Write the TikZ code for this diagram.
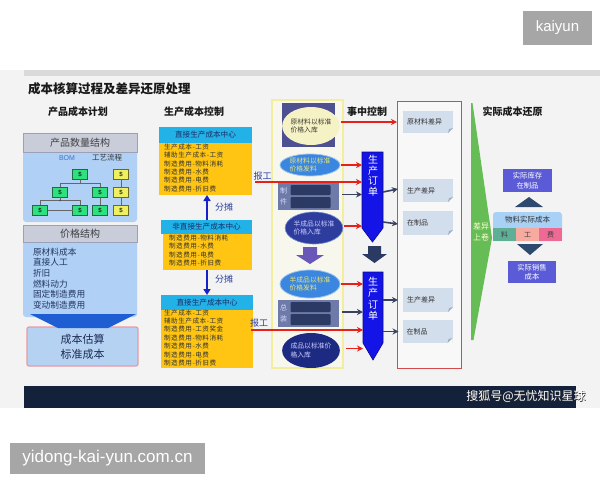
\documentclass[tikz,border=0pt]{standalone}
\usepackage{fontspec}
\setmainfont{Noto Sans CJK SC}
\newfontfamily\cjksp{Noto Sans CJK SC}[LetterSpace=8]
\newfontfamily\lat{Liberation Sans}
\usetikzlibrary{arrows.meta,shapes.geometric,calc}
\definecolor{cSlide}{HTML}{F3F3F3}
\definecolor{cBand}{HTML}{DADADA}
\definecolor{cDarkBar}{HTML}{14213A}
\definecolor{cWm}{HTML}{A6A6A6}
\definecolor{cPblue}{HTML}{B0D1F5}
\definecolor{cHgray}{HTML}{C9CDDA}
\definecolor{cHgrayD}{HTML}{9AA0B8}
\definecolor{cChev}{HTML}{1E5ED2}
\definecolor{cGbox}{HTML}{2EE07E}
\definecolor{cGboxD}{HTML}{1F6A40}
\definecolor{cYbox}{HTML}{EEF060}
\definecolor{cYboxD}{HTML}{6A6A20}
\definecolor{cBom}{HTML}{3C74C8}
\definecolor{cItem}{HTML}{22345E}
\definecolor{cEst}{HTML}{B5D2F2}
\definecolor{cEstD}{HTML}{E79AA4}
\definecolor{cEstT}{HTML}{1B2B55}
\definecolor{cCyan}{HTML}{22B2E8}
\definecolor{cYel}{HTML}{FFC512}
\definecolor{cNavyT}{HTML}{1A2F66}
\definecolor{cFen}{HTML}{1522C8}
\definecolor{cFenT}{HTML}{2A40A0}
\definecolor{cYFrame}{HTML}{F2EE9E}
\definecolor{cFrameFill}{HTML}{F7F7EE}
\definecolor{cSlate}{HTML}{4D5192}
\definecolor{cCream}{HTML}{F5F3C6}
\definecolor{cEllB}{HTML}{3B86DE}
\definecolor{cEllBD}{HTML}{9EC4F0}
\definecolor{cEllTxt}{HTML}{E8E37A}
\definecolor{cEllDB}{HTML}{2E3C9E}
\definecolor{cEllNv}{HTML}{1C2A82}
\definecolor{cPanel}{HTML}{6E7BA8}
\definecolor{cBar}{HTML}{2A3A62}
\definecolor{cPurp}{HTML}{6A58B8}
\definecolor{cOrd}{HTML}{1414E6}
\definecolor{cOrdD}{HTML}{0A0A90}
\definecolor{cRed}{HTML}{E8201A}
\definecolor{cDarkA}{HTML}{3A4262}
\definecolor{cRedBox}{HTML}{D44A4A}
\definecolor{cLbox}{HTML}{D3DEEC}
\definecolor{cFold}{HTML}{9FB0C6}
\definecolor{cGrn}{HTML}{66BC55}
\definecolor{cViolet}{HTML}{5B5BD8}
\definecolor{cTri}{HTML}{2D4A6E}
\definecolor{cMat}{HTML}{A9D1F5}
\definecolor{cCl}{HTML}{5FAE96}
\definecolor{cCg}{HTML}{F6AAA0}
\definecolor{cCf}{HTML}{EC6A94}
\newcommand{\fs}[2]{\fontsize{#1}{#2}\selectfont}
\begin{document}
\begin{tikzpicture}[x=1pt,y=-1pt,
  every node/.style={inner sep=0pt,outer sep=0pt},
  hdrbox/.style={fill=cHgray,draw=cHgrayD,line width=0.6,text=black!75,font=\fs{10}{12},minimum width=114},
  treebox/.style={fill=cGbox,draw=cGboxD,line width=0.5,minimum width=15,minimum height=10,font=\lat\fs{6}{6}},
  ytreebox/.style={treebox,fill=cYbox,draw=cYboxD},
  treeline/.style={draw=black!60,line width=0.6},
  priceitem/.style={anchor=west,text=cItem,font=\fs{8.7}{9}},
  cyhead/.style={fill=cCyan,text=cNavyT,font=\fs{7.6}{8}},
  yelbox/.style={fill=cYel},
  yrows/.style={anchor=north west,align=left,text=black!80,font=\cjksp\fs{6.6}{8.3}},
  fenar/.style={draw=cFen,line width=2.2,-{Triangle[length=6,width=7]}},
  fenlab/.style={text=cFenT,font=\fs{9}{10}},
  redar/.style={draw=cRed,line width=1.6,-{Stealth[length=6,width=6]}},
  darkar/.style={draw=cDarkA,line width=1.6,-{Stealth[length=6,width=6]}},
  ellnode/.style={ellipse,align=left,font=\fs{6.6}{8.6}},
  panelbox/.style={fill=cPanel,minimum width=61,minimum height=27},
  barbox/.style={fill=cBar,minimum width=40,rounded corners=1},
  plab/.style={text=white!85!blue,align=center,font=\fs{7}{11}},
  ordtxt/.style={anchor=north,text=white,align=center,font=\fs{10}{10.7}},
  lbx/.style={fill=cLbox,minimum width=50,text width=42,align=left,text=black!80,font=\fs{7}{8}},
  viobox/.style={fill=cViolet,text=white,align=center,font=\fs{7.3}{9.5},minimum width=49},
  cell/.style={minimum width=23,minimum height=13,text=black!75,font=\fs{7}{8}},
  colhead/.style={font=\bfseries\fs{10}{12},text=black!90},
]
\useasboundingbox (0,0) rectangle (600,480);
\fill[white] (0,0) rectangle (600,480);
\fill[cSlide] (0,70) rectangle (600,408);
\fill[cBand] (24,70) rectangle (600,76);
\fill[cDarkBar] (24,386) rectangle (576,408);
\node[fill=cWm,minimum width=69,minimum height=34,text=white,font=\lat\fs{15}{16}] (kaiyun) at (557.5,28) {kaiyun};
\node[fill=cWm,minimum width=195,minimum height=31,text=white,font=\lat\fs{17}{18}] (site) at (107.5,458.5) {yidong-kai-yun.com.cn};
\node[text=black!85,font=\fs{12}{14}] (wmks) at (526.8,397.3) {搜狐号@无忧知识星球};
\node[text=white,font=\fs{12}{14}] (wmk) at (526,396.5) {搜狐号@无忧知识星球};

% titles
\node[anchor=west,font=\bfseries\fs{12.5}{14},text=black!90] (title) at (28,89) {成本核算过程及差异还原处理};
\node[colhead] (h1) at (78,112) {产品成本计划};
\node[colhead] (h2) at (194,112) {生产成本控制};
\node[colhead] (h3) at (367,112) {事中控制};
\node[colhead] (h4) at (512.5,112) {实际成本还原};

% left column
\fill[cPblue,rounded corners=3] (23,145) rectangle (137,222);
\node[hdrbox,minimum height=19] (qty) at (80,142.5) {产品数量结构};
\node[text=cBom,font=\lat\fs{7}{8}] (bom) at (67,158) {BOM};
\node[text=black!80,font=\fs{7.5}{8}] (gylc) at (107,158) {工艺流程};
\node[treebox] (t1) at (80,174) {\$};
\node[treebox] (m1) at (60,192) {\$};
\node[treebox] (m2) at (100,192) {\$};
\node[treebox] (b1) at (40,210) {\$};
\node[treebox] (b2) at (80,210) {\$};
\node[treebox] (b3) at (100,210) {\$};
\node[ytreebox] (g1) at (121,174) {\$};
\node[ytreebox] (g2) at (121,192) {\$};
\node[ytreebox] (g3) at (121,210) {\$};
\draw[treeline] (t1.south) -- ++(0,4.5) coordinate (j1) -| (m1.north);
\draw[treeline] (j1) -| (m2.north);
\draw[treeline] (m1.south) -- ++(0,3.5) coordinate (j2) -| (b1.north);
\draw[treeline] (j2) -| (b2.north);
\fill[black!70] (j2) circle (0.9);
\draw[treeline] (b1.east) -- (b2.west);
\draw[treeline] (m2.south) -- (b3.north);
\draw[treeline] (g1.south) -- (g2.north);
\draw[treeline] (g2.south) -- (g3.north);

\fill[cPblue,rounded corners=3] (23,238) rectangle (137,317);
\node[hdrbox,minimum height=17] (price) at (80,233.5) {价格结构};
\node[priceitem] (p1) at (33,252) {原材料成本};
\node[priceitem] (p2) at (33,262.6) {直接人工};
\node[priceitem] (p3) at (33,273.2) {折旧};
\node[priceitem] (p4) at (33,283.8) {燃料动力};
\node[priceitem] (p5) at (33,294.4) {固定制造费用};
\node[priceitem] (p6) at (33,305) {变动制造费用};
\node[fill=cEst,draw=cEstD,line width=1.2,rounded corners=2,minimum width=111,minimum height=39,align=center,text=cEstT,font=\fs{11}{15}] (est) at (82.5,346.5) {成本估算\\标准成本};
\fill[cChev] (30,314) -- (136,314) -- (108,328) -- (58,328) -- cycle;

% production cost control
\node[cyhead,minimum width=93,minimum height=16] (dc1) at (205.5,135) {直接生产成本中心};
\node[yelbox,minimum width=93,minimum height=52] (y1) at (205.5,169) {};
\node[yrows] (r1) at (164,144) {生产成本-工资\\辅助生产成本-工资\\制造费用-物料消耗\\制造费用-水费\\制造费用-电费\\制造费用-折旧费};
\node[cyhead,minimum width=91,minimum height=14] (dc2) at (206.5,227) {非直接生产成本中心};
\node[yelbox,minimum width=89,minimum height=36] (y2) at (207.5,252) {};
\node[yrows,font=\cjksp\fs{6.6}{8.5}] (r2) at (169,234.5) {制造费用-物料消耗\\制造费用-水费\\制造费用-电费\\制造费用-折旧费};
\node[cyhead,minimum width=92,minimum height=15] (dc3) at (207,302.5) {直接生产成本中心};
\node[yelbox,minimum width=92,minimum height=58] (y3) at (207,339) {};
\node[yrows,font=\cjksp\fs{6.6}{8.4}] (r3) at (164,309.5) {生产成本-工资\\辅助生产成本-工资\\制造费用-工资奖金\\制造费用-物料消耗\\制造费用-水费\\制造费用-电费\\制造费用-折旧费};
\draw[fenar] ([xshift=0.5]dc2.north) -- ([xshift=1.5]y1.south);
\draw[fenar] ([xshift=-0.5]y2.south) -- (dc3.north);
\node[fenlab] (fl1) at (224,207) {分摊};
\node[fenlab] (fl2) at (224,279) {分摊};
\node[fenlab] (bg1) at (262.5,176.5) {报工};
\node[fenlab] (bg2) at (259,323) {报工};

% in-process control frame
\node[draw=cYFrame,fill=cFrameFill,line width=1.2,minimum width=71,minimum height=268] (mid) at (307.5,234) {};
\node[fill=cSlate,minimum width=53,minimum height=44] (rmbox) at (308.5,125) {};
\node[ellnode,fill=cCream,minimum width=48,minimum height=38,text=black!75!olive,font=\fs{6.8}{8.5}] (rmin) at (311,126) {原材料以标准\\价格入库};
\node[ellnode,fill=cEllB,draw=cEllBD,line width=0.8,minimum width=60,minimum height=22,text=cEllTxt,font=\fs{6.8}{8.8}] (rmout) at (310,165) {原材料以标准\\价格发料};
\node[panelbox] (zj) at (308.5,196.5) {};
\node[barbox,minimum height=10] (zjb1) at (310.5,190) {};
\node[barbox,minimum height=11] (zjb2) at (310.5,202.5) {};
\node[plab] (zjl) at (283.5,196) {制\\件};
\node[ellnode,fill=cEllDB,draw=cEllBD!60!cEllDB,line width=0.6,minimum width=52,minimum height=32,text=white!80!blue,font=\fs{6.8}{8.8}] (sfin) at (314,228) {半成品以标准\\价格入库};
\fill[cPurp] (303,247) -- (317,247) -- (317,255) -- (324,255) -- (310,264) -- (296,255) -- (303,255) -- cycle;
\node[ellnode,fill=cEllB,draw=cEllBD,line width=0.8,minimum width=60,minimum height=28,text=cEllTxt,font=\fs{6.8}{8.6}] (sfout) at (310,284) {半成品以标准\\价格发料};
\node[panelbox] (zz) at (308.5,313.5) {};
\node[barbox,minimum height=10] (zzb1) at (310.5,307) {};
\node[barbox,minimum height=11] (zzb2) at (310.5,319.5) {};
\node[plab] (zzl) at (283.5,313) {总\\装};
\node[ellnode,fill=cEllNv,minimum width=48,minimum height=35,text=white!80!blue,font=\fs{6.8}{8.2}] (cpin) at (311,350.5) {成品以标准价\\格入库};

% production orders
\node[minimum width=21,minimum height=76] (ord1) at (372.5,190) {};
\filldraw[fill=cOrd,draw=cOrdD,line width=0.6] (ord1.north west) -- (ord1.north east) -- (ord1.south east) -- ($(ord1.south)+(0,14)$) -- (ord1.south west) -- cycle;
\node[ordtxt] (ot1) at (373,155) {生\\产\\订\\单};
\fill[cBar] (368,246) -- (381,246) -- (381,254) -- (387,254) -- (374.5,263) -- (362,254) -- (368,254) -- cycle;
\node[minimum width=20,minimum height=71] (ord2) at (373,307.5) {};
\filldraw[fill=cOrd,draw=cOrdD,line width=0.6] (ord2.north west) -- (ord2.north east) -- (ord2.south east) -- ($(ord2.south)+(0,17)$) -- (ord2.south west) -- cycle;
\node[ordtxt,font=\fs{10}{11.3}] (ot2) at (373,277) {生\\产\\订\\单};

% variance container
\node[draw=cRedBox,fill=cSlide!60!white,line width=1,minimum width=64,minimum height=267] (redc) at (429,234.5) {};
\node[lbx,minimum height=22] (rmd) at (428,122) {原材料差异};
\node[lbx,minimum height=23] (pd1) at (428,190.5) {生产差异};
\node[lbx,minimum height=24] (wip1) at (428,223) {在制品};
\node[lbx,minimum height=24] (pd2) at (428,300) {生产差异};
\node[lbx,minimum height=23] (wip2) at (427.5,331.5) {在制品};
\foreach \b in {rmd,pd1,wip1,pd2,wip2}{
  \fill[cSlide!60!white] ($(\b.south east)+(-5,0)$) -- (\b.south east) -- ($(\b.south east)+(0,-5)$) -- cycle;
  \fill[cFold] ($(\b.south east)+(-5,0)$) -- ($(\b.south east)+(0,-5)$) -- ($(\b.south east)+(-4,-4)$) -- cycle;
}

% arrows
\path ([shift={(6,-3)}]rmbox.east) coordinate (a1);
\draw[redar] (a1) -- (a1 -| redc.west);
\draw[redar] ([xshift=1]rmout.east) -- (rmout.east -| ord1.west);
\coordinate (bg1s) at (255,182);
\draw[redar] (bg1s) -- (bg1s -| ord1.west);
\draw[darkar] ([shift={(3,-2)}]zj.east) -- ([yshift=2]zj.east -| ord1.west);
\path ([shift={(1,-2)}]sfin.east) coordinate (a2);
\draw[redar] (a2) -- (a2 -| ord1.west);
\draw[redar] ([xshift=1]sfout.east) -- (sfout.east -| ord2.west);
\draw[darkar] ([shift={(3,-1.5)}]zz.east) -- ([yshift=1.5]zz.east -| ord2.west);
\coordinate (bg2s) at (251,330);
\draw[redar] (bg2s) -- (bg2s -| ord2.west);
\path ([shift={(6,-2)}]cpin.east) coordinate (a3);
\draw[redar] (a3) -- (a3 -| ord2.west);
\draw[darkar] ([yshift=-1.5]pd1.west -| ord1.east) -- ([shift={(-5,-1.5)}]pd1.west);
\draw[darkar] ([yshift=1]wip1.west -| ord1.east) -- ([shift={(-5,1)}]wip1.west);
\draw[darkar] (pd2.west -| ord2.east) -- ([xshift=-5]pd2.west);
\draw[darkar] (wip2.west -| ord2.east) -- ([xshift=-4]wip2.west);

% roll-up
\fill[cGrn] (471,103) -- (472.5,103) -- (492,238) -- (473.5,340) -- (471,340) -- cycle;
\node[align=center,text=white!85!yellow,font=\fs{8}{10.5}] (gt) at (481,232) {差异\\上卷};

% actual cost
\node[viobox,minimum height=23] (ris) at (527.5,180.5) {实际库存\\在制品};
\fill[cTri] (529,197) -- (543,207) -- (515,207) -- cycle;
\node[fill=cMat,rounded corners=3,minimum width=69,minimum height=29,anchor=north] (matc) at (527.5,212) {};
\node[text=black!80,font=\fs{7.5}{8}] (matt) at (527.5,220) {物料实际成本};
\node[cell,fill=cCl] (cl) at (504.5,234.5) {料};
\node[cell,fill=cCg] (cg) at (527.5,234.5) {工};
\node[cell,fill=cCf] (cf) at (550.5,234.5) {费};
\fill[cTri] (517,244) -- (543,244) -- (530,255) -- cycle;
\node[viobox,minimum width=48,minimum height=22] (rsale) at (532,272) {实际销售\\成本};
\end{tikzpicture}
\end{document}
